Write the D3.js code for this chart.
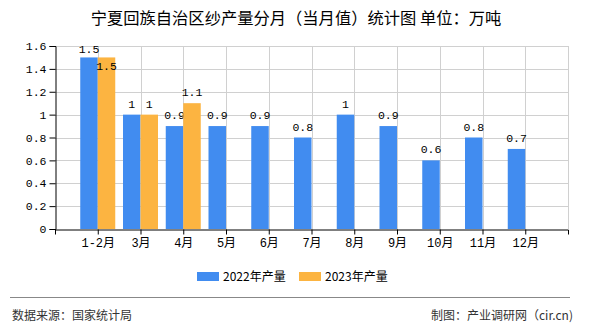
<!DOCTYPE html>
<html><head><meta charset="utf-8">
<script src="https://cdn.jsdelivr.net/npm/d3@7"></script>
<style>
html,body{margin:0;padding:0;background:#fff;}
svg{display:block;}
</style></head>
<body>
<svg id="c" width="590" height="330"></svg>
<script>
const categories = ["1-2月","3月","4月","5月","6月","7月","8月","9月","10月","11月","12月"];
const values2022 = [1.5,1,0.9,0.9,0.9,0.8,1,0.9,0.6,0.8,0.7];
const values2023 = [1.5,1,1.1,null,null,null,null,null,null,null,null];
const seriesNames = ["2022年产量","2023年产量"];
const colors = ["#418CF0","#FCB441"];
const yTicks = [0,0.2,0.4,0.6,0.8,1,1.2,1.4,1.6];
const yTickLabels = ["0","0.2","0.4","0.6","0.8","1","1.2","1.4","1.6"];
const title = "宁夏回族自治区纱产量分月（当月值）统计图 单位：万吨";
const sourceText = "数据来源：国家统计局";
const creditText = "制图：产业调研网（cir.cn)";

const svg = d3.select("#c");
const pLeft = 55, pRight = 568, pTop = 46, pBottom = 229;
const monoFont = "'Liberation Mono','DejaVu Sans Mono','Noto Sans CJK SC',monospace";
const sansFont = "'Noto Sans CJK SC','Noto Sans',sans-serif";

const x = d3.scalePoint().domain(categories).range([pLeft, pRight]).padding(1);
const y = d3.scaleLinear().domain([0, 1.6]).range([pBottom, pTop]);
const barW = 17.5;

// title
svg.append("text").attr("x", 296).attr("y", 24).attr("text-anchor","middle")
  .attr("font-family", sansFont).attr("font-size", 16.3).attr("fill","#000").text(title);

// horizontal grid
svg.append("g").selectAll("line").data(yTicks.slice(1)).join("line")
  .attr("x1", pLeft).attr("x2", pRight).attr("y1", d=>Math.round(y(d))+0.5).attr("y2", d=>Math.round(y(d))+0.5)
  .attr("stroke","#d0d0d0").attr("stroke-width",1);
// vertical grid at category points and right end
const vPos = categories.map(c=>x(c)).concat([pRight]);
svg.append("g").selectAll("line").data(vPos).join("line")
  .attr("x1", d=>Math.round(d)+0.5).attr("x2", d=>Math.round(d)+0.5).attr("y1", pTop).attr("y2", pBottom)
  .attr("stroke","#d0d0d0").attr("stroke-width",1);

// bars
const series = [values2022, values2023];
series.forEach((vals, si) => {
  const g = svg.append("g");
  const data = categories.map((c,i)=>({c, v: vals[i]})).filter(d=>d.v!=null);
  g.selectAll("rect").data(data).join("rect")
    .attr("x", d => si===0 ? x(d.c)-barW : x(d.c))
    .attr("width", barW)
    .attr("y", d => y(d.v))
    .attr("height", d => pBottom - y(d.v))
    .attr("fill", colors[si]);
  g.selectAll("text").data(data).join("text")
    .attr("x", d => (si===0 ? x(d.c)-barW : x(d.c)) + barW/2)
    .attr("y", d => {
      const above = y(d.v) - 7;
      // second-series label that would collide with the top of the plot goes inside the bar
      if (si===1 && above < pTop + 12) return y(d.v) + 13;
      return Math.max(above, pTop + 7);
    })
    .attr("text-anchor","middle")
    .attr("font-family", monoFont).attr("font-size", 11.5).attr("fill","#000")
    .text(d => String(d.v));
});

// y axis
const yAxis = d3.axisLeft(y).tickValues(yTicks).tickFormat((d,i)=>yTickLabels[i]).tickSize(6).tickPadding(3);
const gy = svg.append("g").attr("transform",`translate(${pLeft+0.5},0)`).call(yAxis);
gy.select(".domain").attr("stroke","#000");
gy.selectAll(".tick line").attr("stroke","#000");
gy.selectAll("text").attr("font-family", monoFont).attr("font-size", 11.5).attr("fill","#000");

// x axis
const xAxis = d3.axisBottom(x).tickSize(5).tickPadding(4).tickSizeOuter(5);
const gx = svg.append("g").attr("transform",`translate(0,${pBottom+0.5})`).call(xAxis);
gx.select(".domain").attr("stroke","#000");
gx.selectAll(".tick line").attr("stroke","#000");
gx.selectAll("text").attr("font-family", monoFont).attr("font-size", 12).attr("fill","#000");

// legend
const legendX = [197, 299];
seriesNames.forEach((n,i)=>{
  svg.append("rect").attr("x", legendX[i]).attr("y", 272).attr("width", 22).attr("height", 9).attr("fill", colors[i]);
  svg.append("text").attr("x", legendX[i]+26).attr("y", 281).attr("font-family", sansFont)
    .attr("font-size", 12).attr("fill","#000").text(n);
});

// footer
svg.append("line").attr("x1",10).attr("x2",570).attr("y1",297.5).attr("y2",297.5).attr("stroke","#888").attr("stroke-width",1);
svg.append("text").attr("x",12).attr("y",320).attr("font-family", sansFont).attr("font-size",12).attr("fill","#333").text(sourceText);
svg.append("text").attr("x",573).attr("y",320).attr("text-anchor","end").attr("font-family", sansFont).attr("font-size",12).attr("fill","#333").text(creditText);
</script>
</body></html>
